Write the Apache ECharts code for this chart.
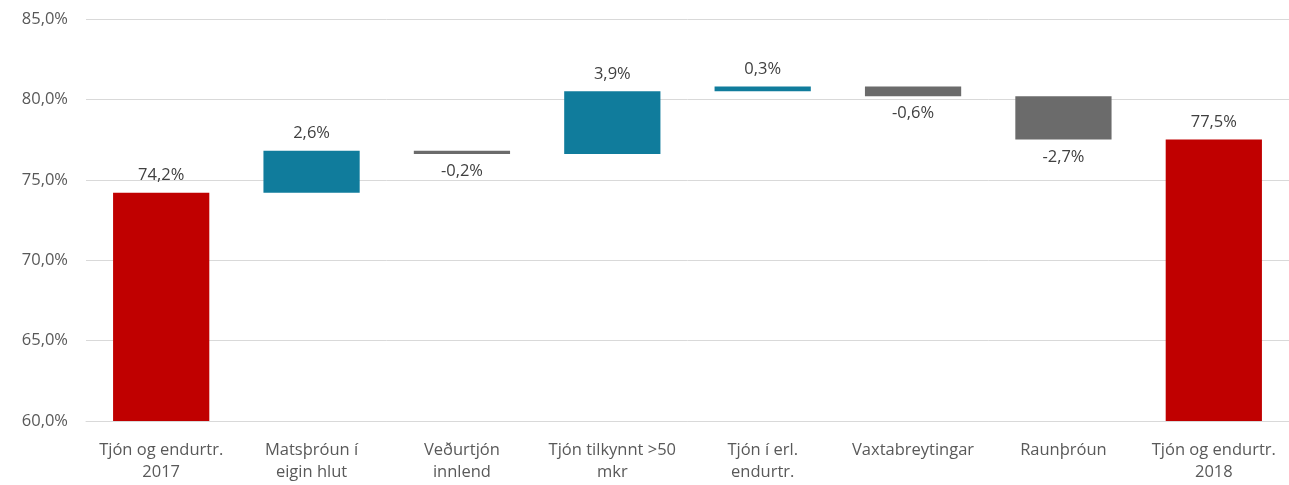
<!DOCTYPE html>
<html>

<head>
    <meta charset="utf-8" />
    <script src="https://cdn.jsdelivr.net/npm/echarts@6/dist/echarts.min.js"></script>
</head>

<body style="margin:0;">
    <div id="main" style="width: 1289px;height:485px;"></div>
    <script type="text/javascript">
        const CATEGORIES = ["Tjón og endurtr.\n2017", "Matsþróun í\neigin hlut", "Veðurtjón\ninnlend",
            "Tjón tilkynnt >50\nmkr", "Tjón í erl.\nendurtr.", "Vaxtabreytingar", "Raunþróun", "Tjón og endurtr.\n2018"];
        // first and last are totals, the rest are changes
        const VALUES = [74.2, 2.6, -0.2, 3.9, 0.3, -0.6, -2.7, 77.5];
        const IS_TOTAL = [true, false, false, false, false, false, false, true];
        const Y_TICKS = [60, 65, 70, 75, 80, 85];

        const RED = '#C00000', BLUE = '#107C9C', GRAY = '#6B6B6B';

        const fmt = v => v.toFixed(1).replace('.', ',') + '%';

        const base = [];
        const shown = [];
        let running = 0;
        VALUES.forEach((v, i) => {
            if (IS_TOTAL[i]) {
                base.push(0);
                running = v;
                shown.push({
                    value: v,
                    itemStyle: { color: RED },
                    label: { position: 'top' }
                });
            } else {
                const end = +(running + v).toFixed(2);
                base.push(Math.min(running, end));
                shown.push({
                    value: Math.abs(v),
                    raw: v,
                    itemStyle: { color: v >= 0 ? BLUE : GRAY },
                    label: { position: v >= 0 ? 'top' : 'bottom' }
                });
                running = end;
            }
        });

        const myChart = echarts.init(document.getElementById('main'));
        myChart.setOption({
            animation: false,
            textStyle: { fontFamily: 'Open Sans' },
            grid: { left: 86, right: 0, top: 19, bottom: 64 },
            xAxis: {
                type: 'category',
                data: CATEGORIES,
                axisLine: { show: true, lineStyle: { color: '#D9D9D9' } },
                axisTick: { show: false },
                axisLabel: { color: '#595959', fontSize: 16.5, lineHeight: 22, margin: 18, interval: 0 }
            },
            yAxis: {
                type: 'value',
                min: Y_TICKS[0],
                max: Y_TICKS[Y_TICKS.length - 1],
                interval: 5,
                axisLine: { show: false },
                axisTick: { show: false },
                splitLine: { lineStyle: { color: '#D9D9D9', width: 1 } },
                axisLabel: { color: '#595959', fontSize: 16.5, margin: 18, formatter: v => fmt(v) }
            },
            series: [{
                type: 'bar',
                stack: 'w',
                data: base,
                itemStyle: { color: 'transparent' },
                silent: true
            }, {
                type: 'bar',
                stack: 'w',
                barWidth: '64%',
                data: shown,
                label: {
                    show: true,
                    color: '#404040',
                    fontSize: 16.5,
                    distance: 9,
                    formatter: p => fmt(p.data.raw !== undefined ? p.data.raw : p.value)
                }
            }]
        });
    </script>
</body>

</html>
